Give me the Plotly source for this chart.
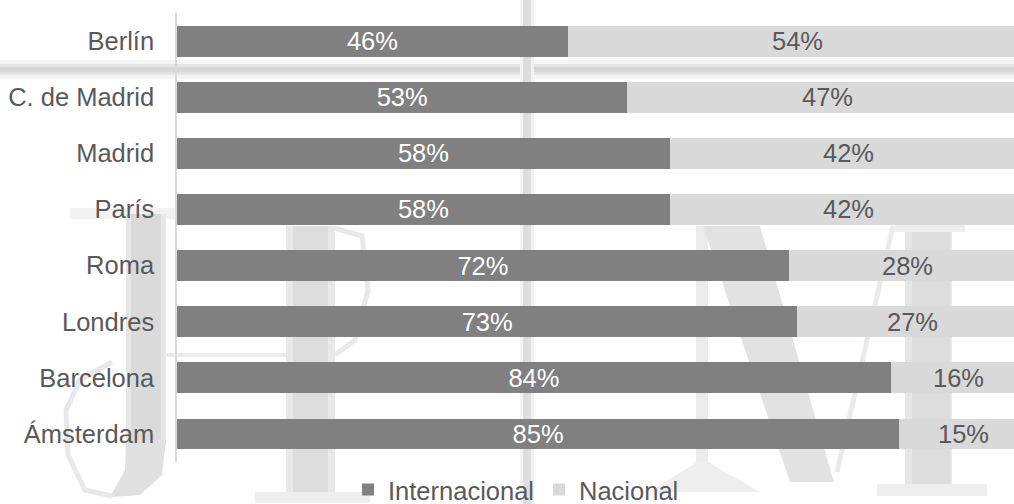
import plotly.graph_objects as go

# Share of overnight stays by origin of the traveller, per city
cities = ["Berlín", "C. de Madrid", "Madrid", "París", "Roma", "Londres", "Barcelona", "Ámsterdam"]
internacional = [46, 53, 58, 58, 72, 73, 84, 85]
nacional = [54, 47, 42, 42, 28, 27, 16, 15]

DARK = "#808080"
LIGHT = "#d9d9d9"
TEXT = "#595959"
FONT = "Liberation Sans, Arial, sans-serif"
FS = 25.5

W, H = 1014, 504
M_L, M_R, M_T, M_B = 177, 0, 13, 42
PW, PH = W - M_L - M_R, H - M_T - M_B


def px(x, y):
    """Pixel position on the page -> paper coordinates."""
    return (x - M_L) / PW, (H - M_B - y) / PH


def rect(x0, y0, x1, y1, color):
    a, b = px(x0, y0)
    c, d = px(x1, y1)
    return dict(type="rect", xref="paper", yref="paper", x0=a, y0=d, x1=c, y1=b,
                fillcolor=color, line_width=0, layer="below")


def poly(points, color):
    pts = [px(x, y) for x, y in points]
    path = "M " + " L ".join(f"{a:.5f},{b:.5f}" for a, b in pts) + " Z"
    return dict(type="path", xref="paper", yref="paper", path=path,
                fillcolor=color, line_width=0, layer="below")


def stroke(points, color, width):
    pts = [px(x, y) for x, y in points]
    path = "M " + " L ".join(f"{a:.5f},{b:.5f}" for a, b in pts)
    return dict(type="path", xref="paper", yref="paper", path=path,
                line=dict(color=color, width=width), layer="below")


# faint watermark lettering behind the chart
watermark = [
    # horizontal band near the top
    rect(0, 60, W, 79, "#f5f5f5"),
    rect(0, 64, W, 75, "#e4e4e4"),
    rect(0, 67, W, 72, "#d6d6d6"),
    # thin vertical rule
    rect(520, 0, 534, H, "#f2f2f2"),
    rect(523, 0, 531, H, "#dedede"),
    # J
    rect(70, 208, 176, 219, "#f2f2f2"),
    rect(126, 214, 166, 445, "#e6e6e6"),
    rect(131, 214, 161, 445, "#dadada"),
    poly([(126, 440), (166, 440), (162, 475), (140, 495), (110, 497), (125, 470)], "#e0e0e0"),
    stroke([(112, 496), (85, 490), (68, 455), (66, 410), (80, 380), (112, 362)], "#e8e8e8", 5),
    stroke([(164, 355), (289, 355)], "#ececec", 4),
    # P
    rect(286, 226, 335, 500, "#e8e8e8"),
    rect(293, 226, 328, 500, "#dddddd"),
    rect(255, 492, 370, 503, "#eeeeee"),
    stroke([(334, 228), (362, 236), (368, 290), (355, 340), (335, 355)], "#e8e8e8", 5),
    # N
    rect(696, 226, 708, 478, "#ebebeb"),
    poly([(650, 492), (697, 462), (708, 462), (760, 492)], "#eeeeee"),
    poly([(703, 226), (760, 226), (834, 482), (790, 482)], "#e2e2e2"),
    stroke([(893, 226), (837, 472)], "#eaeaea", 5),
    rect(905, 226, 952, 490, "#e6e6e6"),
    rect(912, 226, 950, 490, "#dcdcdc"),
    rect(877, 484, 987, 496, "#eeeeee"),
    rect(895, 224, 965, 232, "#eeeeee"),
]

fig = go.Figure()

fig.add_trace(go.Bar(
    name="Internacional", y=cities, x=internacional, orientation="h",
    marker=dict(color=DARK, line_width=0), width=0.55,
    text=[f"{v}%" for v in internacional], textposition="inside",
    insidetextanchor="middle", constraintext="none", textangle=0,
    textfont=dict(color="#ffffff", size=FS, family=FONT),
    hoverinfo="skip",
))
fig.add_trace(go.Bar(
    name="Nacional", y=cities, x=nacional, orientation="h",
    marker=dict(color=LIGHT, line_width=0), width=0.55,
    hoverinfo="skip",
))

# labels for the national share, centred on each full segment
nac_labels = [
    dict(x=i + n / 2, y=c, text=f"{n}%", showarrow=False,
         xanchor="center", yanchor="middle",
         font=dict(color=TEXT, size=FS, family=FONT))
    for c, i, n in zip(cities, internacional, nacional)
]

lx, ly = px(348, 490)
fig.update_layout(
    width=W, height=H,
    margin=dict(l=M_L, r=M_R, t=M_T, b=M_B, pad=0, autoexpand=False),
    barmode="stack",
    plot_bgcolor="rgba(0,0,0,0)", paper_bgcolor="#ffffff",
    font=dict(family=FONT, color=TEXT, size=FS),
    shapes=watermark,
    annotations=nac_labels,
    showlegend=True,
    legend=dict(orientation="h", x=lx, y=ly, xanchor="left", yanchor="middle",
                traceorder="normal",
                font=dict(size=FS, color=TEXT, family=FONT),
                bgcolor="rgba(0,0,0,0)", itemclick=False, tracegroupgap=0),
    xaxis=dict(range=[0, 98.5], visible=False, fixedrange=True),
    yaxis=dict(categoryorder="array", categoryarray=cities, autorange="reversed",
               showline=True, linecolor="#d9d9d9", linewidth=1.5,
               showgrid=False, zeroline=False, ticks="", ticklabelstandoff=16,
               tickfont=dict(size=FS, color=TEXT, family=FONT), fixedrange=True),
)

fig.write_html("out.html", config={"displayModeBar": False})
